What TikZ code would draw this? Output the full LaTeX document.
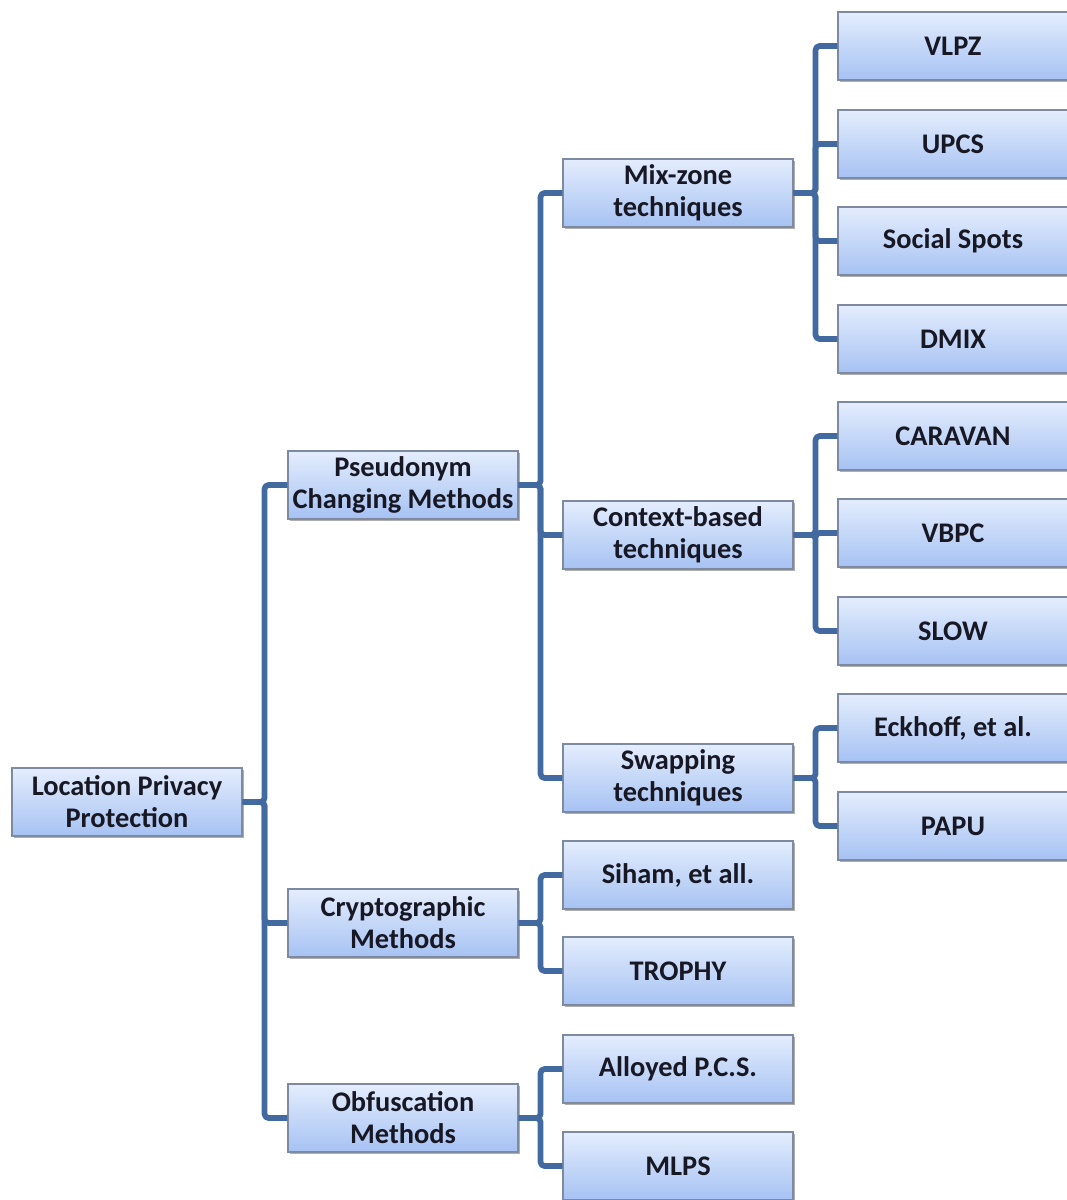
\documentclass[tikz,border=0pt]{standalone}
\usepackage{fontspec}
\setmainfont{Carlito}
\usetikzlibrary{shadows}
\definecolor{conncol}{RGB}{66,106,160}
\definecolor{boxtop}{RGB}{228,237,253}
\definecolor{boxbot}{RGB}{166,194,243}
\definecolor{boxline}{RGB}{125,138,160}
\definecolor{txt}{RGB}{24,24,36}
\tikzset{
  tbox/.style={rectangle, draw=boxline, line width=0.8pt, top color=boxtop, bottom color=boxbot,
    minimum width=172.5pt, minimum height=51pt, inner sep=0pt, align=center, text=txt,
    font=\fontsize{21.3}{24}\selectfont\bfseries,
    drop shadow={shadow xshift=1.8pt, shadow yshift=-1.8pt, opacity=0.45, fill=black!70}},
  conn/.style={draw=conncol, line width=4.3pt, rounded corners=3pt, line join=round}
}
\begin{document}
\begin{tikzpicture}[x=0.75pt,y=-0.75pt]
\useasboundingbox (0,0) rectangle (1067,1200);
\fill[white] (0,0) rectangle (1067,1200);
% level 0
\node[tbox] (root) at (127,802) {Location Privacy\\Protection};
% level 1
\node[tbox] (pcm) at (403,485) {Pseudonym\\Changing  Methods};
\node[tbox] (cry) at (403,923) {Cryptographic\\Methods};
\node[tbox] (obf) at (403,1118) {Obfuscation\\Methods};
% level 2
\node[tbox] (mix) at (678,193) {Mix-zone\\techniques};
\node[tbox] (ctx) at (678,535) {Context-based\\techniques};
\node[tbox] (swp) at (678,778) {Swapping\\techniques};
\node[tbox] (sih) at (678,875) {Siham, et all.};
\node[tbox] (tro) at (678,971) {TROPHY};
\node[tbox] (all) at (678,1069) {Alloyed P.C.S.};
\node[tbox] (mlp) at (678,1166) {MLPS};
% level 3
\node[tbox] (vlpz) at (953,46) {VLPZ};
\node[tbox] (upcs) at (953,144) {UPCS};
\node[tbox] (soc) at (953,241) {Social Spots};
\node[tbox] (dmix) at (953,339) {DMIX};
\node[tbox] (car) at (953,436) {CARAVAN};
\node[tbox] (vbpc) at (953,533) {VBPC};
\node[tbox] (slow) at (953,631) {SLOW};
\node[tbox] (eck) at (953,728) {Eckhoff, et al.};
\node[tbox] (papu) at (953,826) {PAPU};
% connectors
\foreach \p/\c in {root/pcm,root/cry,root/obf,
                   pcm/mix,pcm/ctx,pcm/swp,
                   cry/sih,cry/tro,obf/all,obf/mlp,
                   mix/vlpz,mix/upcs,mix/soc,mix/dmix,
                   ctx/car,ctx/vbpc,ctx/slow,
                   swp/eck,swp/papu}
  \draw[conn] (\p.east) -- ++(22,0) |- (\c.west);
\end{tikzpicture}
\end{document}
